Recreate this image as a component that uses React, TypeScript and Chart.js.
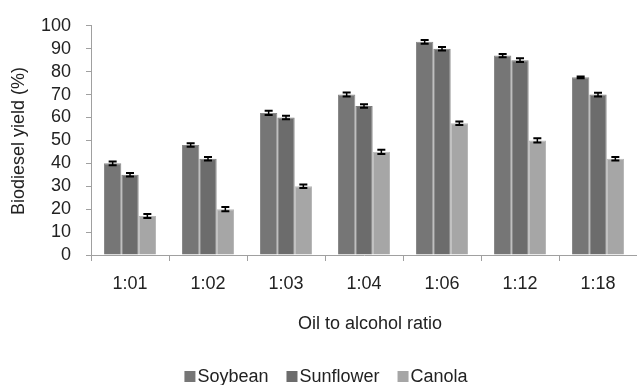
import React, { useEffect, useRef } from "react";
import { Chart, registerables } from "chart.js";

Chart.register(...registerables);

const categories = ["1:01", "1:02", "1:03", "1:04", "1:06", "1:12", "1:18"];
const soybean = [40, 48, 62, 70, 93, 87, 77.5];
const sunflower = [35, 42, 60, 65, 90, 85, 70];
const canola = [17, 20, 30, 45, 57.5, 50, 42];
const soybeanErr = [0.8, 0.8, 0.9, 0.9, 0.8, 0.7, 0.4];
const sunflowerErr = [0.8, 0.8, 0.8, 0.8, 0.8, 0.8, 0.8];
const canolaErr = [0.9, 0.9, 0.8, 0.9, 0.8, 0.9, 0.8];
const yTicks = [0, 10, 20, 30, 40, 50, 60, 70, 80, 90, 100];

const FONT = "'Liberation Sans', Arial, sans-serif";

const errorBarPlugin = {
  id: "errorBars",
  afterDatasetsDraw(chart: any) {
    const ctx = chart.ctx;
    const yScale = chart.scales.y;
    chart.data.datasets.forEach((ds: any, i: number) => {
      const meta = chart.getDatasetMeta(i);
      const errs = ds.errors || [];
      meta.data.forEach((bar: any, j: number) => {
        const v = ds.data[j];
        const e = errs[j] || 0;
        const yHi = yScale.getPixelForValue(v + e);
        const yLo = yScale.getPixelForValue(v - e);
        const x = bar.x;
        ctx.save();
        ctx.strokeStyle = "#000";
        ctx.lineWidth = 1.5;
        ctx.beginPath();
        ctx.moveTo(x, yHi);
        ctx.lineTo(x, yLo);
        ctx.stroke();
        ctx.lineWidth = 2;
        ctx.beginPath();
        ctx.moveTo(x - 4, yHi);
        ctx.lineTo(x + 4, yHi);
        ctx.moveTo(x - 4, yLo);
        ctx.lineTo(x + 4, yLo);
        ctx.stroke();
        ctx.restore();
      });
    });
  },
};

const textPlugin = {
  id: "texts",
  afterDraw(chart: any) {
    const ctx = chart.ctx;
    ctx.save();
    ctx.fillStyle = "#222";
    ctx.font = `18px ${FONT}`;
    ctx.textAlign = "center";
    ctx.textBaseline = "middle";
    ctx.save();
    ctx.translate(19, 141);
    ctx.rotate(-Math.PI / 2);
    ctx.fillText("Biodiesel yield (%)", 0, 0);
    ctx.restore();
    ctx.fillText("Oil to alcohol ratio", 370, 324);
    const items = chart.data.datasets.map((d: any) => ({ label: d.label, color: d.backgroundColor }));
    const boxW = 11;
    const gap = 2;
    const spacing = 18;
    ctx.textAlign = "left";
    const widths = items.map((it: any) => boxW + gap + ctx.measureText(it.label).width);
    const total = widths.reduce((a: number, b: number) => a + b, 0) + spacing * (items.length - 1);
    let x = 326 - total / 2;
    const y = 376;
    items.forEach((it: any, k: number) => {
      ctx.fillStyle = it.color;
      ctx.fillRect(x, y - 5, boxW, boxW);
      ctx.fillStyle = "#222";
      ctx.fillText(it.label, x + boxW + gap, y + 1);
      x += widths[k] + spacing;
    });
    ctx.restore();
  },
};

export default function App() {
  const ref = useRef<HTMLCanvasElement>(null);
  useEffect(() => {
    if (!ref.current) return;
    const chart = new Chart(ref.current, {
      type: "bar",
      data: {
        labels: categories,
        datasets: [
          { label: "Soybean", data: soybean, errors: soybeanErr, backgroundColor: "#767676", borderColor: "#8a8a8a", borderWidth: 1 } as any,
          { label: "Sunflower", data: sunflower, errors: sunflowerErr, backgroundColor: "#6c6c6c", borderColor: "#7c7c7c", borderWidth: 1 } as any,
          { label: "Canola", data: canola, errors: canolaErr, backgroundColor: "#a6a6a6", borderColor: "#b8b8b8", borderWidth: 1 } as any,
        ],
      },
      options: {
        responsive: false,
        animation: false,
        layout: { padding: { top: 20, left: 0, right: 0, bottom: 0 } },
        datasets: { bar: { categoryPercentage: 0.667, barPercentage: 1.0 } },
        plugins: { legend: { display: false }, tooltip: { enabled: false } },
        scales: {
          x: {
            grid: { display: true, drawOnChartArea: false, drawTicks: true, tickLength: 6, color: "#a0a0a0", offset: true },
            border: { color: "#a0a0a0", width: 1 },
            ticks: { color: "#222", font: { size: 18, family: FONT }, padding: 12, maxRotation: 0, autoSkip: false },
            afterFit: (s: any) => { s.height = 130; },
          },
          y: {
            min: 0,
            max: 100,
            afterBuildTicks: (s: any) => { s.ticks = yTicks.map((v) => ({ value: v })); },
            grid: { display: true, drawOnChartArea: false, drawTicks: true, tickLength: 5, color: "#a0a0a0" },
            border: { color: "#a0a0a0", width: 1 },
            ticks: { color: "#222", font: { size: 18, family: FONT }, padding: 15, autoSkip: false },
            afterFit: (s: any) => { s.width = 91; },
          },
        },
      } as any,
      plugins: [errorBarPlugin, textPlugin],
    });
    return () => chart.destroy();
  }, []);
  return (
    <div style={{ position: "fixed", left: 0, top: 0, width: 637, height: 385, background: "#fff" }}>
      <canvas ref={ref} width={637} height={385} style={{ width: 637, height: 385 }} />
    </div>
  );
}
